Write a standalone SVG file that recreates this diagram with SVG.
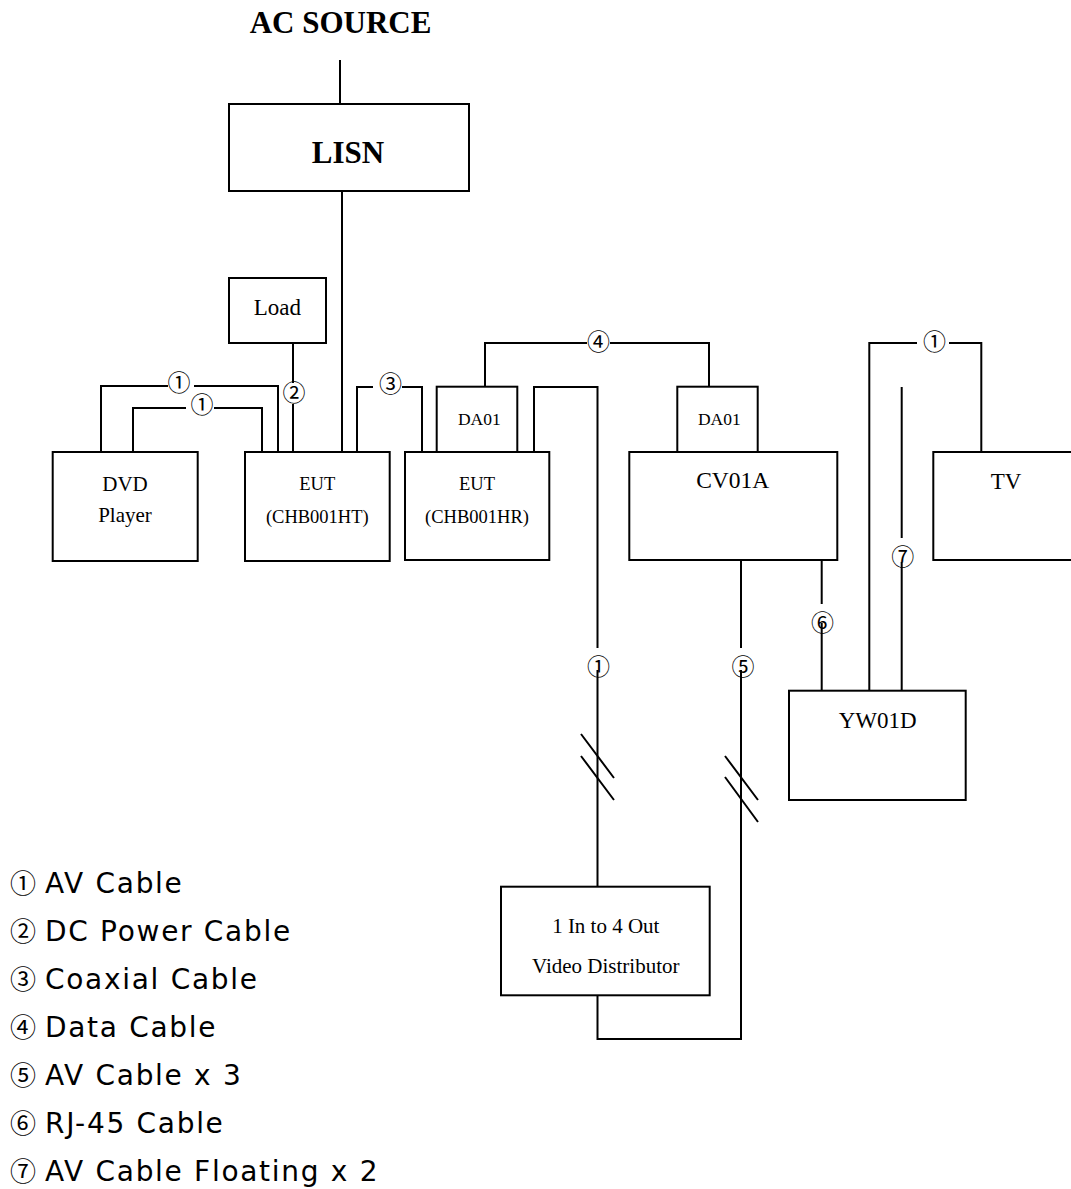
<svg xmlns="http://www.w3.org/2000/svg" width="1071" height="1189" viewBox="0 0 1071 1189">
<style>
.box{fill:#fff;stroke:#000;stroke-width:2}
.wire{fill:none;stroke:#000;stroke-width:2}
.t{font-family:"Liberation Serif","Times New Roman",serif;fill:#000;text-anchor:middle}
.b{font-weight:bold;font-size:31px}
.c{font-family:"Noto Sans CJK JP",sans-serif;font-size:23px;text-anchor:middle;fill:#000}
.lg{font-family:"DejaVu Sans",Verdana,sans-serif;font-size:28px;letter-spacing:1.7px;fill:#000}
.lc{font-family:"Noto Sans CJK JP",sans-serif;font-size:26px;letter-spacing:0}
</style>
<rect width="1071" height="1189" fill="#fff"/>
<g id="connectors">
<path class="wire" d="M340 60V104"/>
<path class="wire" d="M342 191V452"/>
<path class="wire" d="M293 343V383M293 404V452"/>
<path class="wire" d="M101 452V386H168M194 386H278V452"/>
<path class="wire" d="M133 452V408H186M214 408H262V452"/>
<path class="wire" d="M357 452V387H373M402 387H422V452"/>
<path class="wire" d="M485 387V343H587M610 343H709V387"/>
<path class="wire" d="M534 452V387H597.5V648M597.5 670V887"/>
<path class="wire" d="M581 734L614 778M581 756L614 800"/>
<path class="wire" d="M741 560V648M741 670V1039H597.5V996"/>
<path class="wire" d="M725 756L758 800M725 777L758 822"/>
<path class="wire" d="M821.7 560V604M821.7 623V691"/>
<path class="wire" d="M869.3 691V343H917M949 343H981.3V452"/>
<path class="wire" d="M901.7 387V538M901.7 562V691"/>
<text class="c" x="179" y="390.5">①</text>
<text class="c" x="202" y="413">①</text>
<text class="c" x="294" y="401">②</text>
<text class="c" x="390.5" y="391.5">③</text>
<text class="c" x="598.5" y="349.5">④</text>
<text class="c" x="598.5" y="674.5">①</text>
<text class="c" x="743" y="674.5">⑤</text>
<text class="c" x="822.5" y="631">⑥</text>
<text class="c" x="934.5" y="349.5">①</text>
<text class="c" x="902.7" y="564.5">⑦</text>
</g>
<g id="ac-source"><text class="t b" x="340.5" y="33">AC SOURCE</text></g>
<g id="lisn"><rect class="box" x="229" y="104" width="240" height="87"/><text class="t b" x="348" y="162.7">LISN</text></g>
<g id="load"><rect class="box" x="229" y="278" width="97" height="65"/><text class="t" x="277.3" y="315" font-size="23">Load</text></g>
<g id="dvd"><rect class="box" x="52.7" y="452" width="145" height="109"/><text class="t" x="125" y="490.7" font-size="21">DVD</text><text class="t" x="125" y="522" font-size="21">Player</text></g>
<g id="eut-ht"><rect class="box" x="245" y="452" width="144.7" height="109"/><text class="t" x="317.3" y="490" font-size="18.5">EUT</text><text class="t" x="317.3" y="522.7" font-size="18.5">(CHB001HT)</text></g>
<g id="eut-hr"><rect class="box" x="405" y="452" width="144.3" height="108"/><text class="t" x="477" y="490" font-size="18.5">EUT</text><text class="t" x="477" y="522.7" font-size="18.5">(CHB001HR)</text></g>
<g id="da01-a"><rect class="box" x="436.7" y="386.7" width="80.6" height="65.3"/><text class="t" x="479.3" y="425" font-size="17.5">DA01</text></g>
<g id="da01-b"><rect class="box" x="677.3" y="386.7" width="80.4" height="65.3"/><text class="t" x="719.3" y="425" font-size="17.5">DA01</text></g>
<g id="cv01a"><rect class="box" x="629.3" y="452" width="208" height="108"/><text class="t" x="732.7" y="488.3" font-size="23.5">CV01A</text></g>
<g id="tv"><rect class="box" x="933.3" y="452" width="160" height="108"/><text class="t" x="1006" y="489" font-size="23">TV</text></g>
<g id="yw01d"><rect class="box" x="789" y="690.7" width="176.7" height="109.3"/><text class="t" x="877.7" y="727.7" font-size="23">YW01D</text></g>
<g id="distributor"><rect class="box" x="501" y="886.7" width="208.7" height="108.6"/><text class="t" x="605.8" y="933.3" font-size="21">1 In to 4 Out</text><text class="t" x="605.8" y="972.7" font-size="21">Video Distributor</text></g>
<g id="legend">
<text class="lg" y="893"><tspan class="lc" x="10">①</tspan><tspan x="45">AV Cable</tspan></text>
<text class="lg" y="941"><tspan class="lc" x="10">②</tspan><tspan x="45">DC Power Cable</tspan></text>
<text class="lg" y="989"><tspan class="lc" x="10">③</tspan><tspan x="45">Coaxial Cable</tspan></text>
<text class="lg" y="1037"><tspan class="lc" x="10">④</tspan><tspan x="45">Data Cable</tspan></text>
<text class="lg" y="1085"><tspan class="lc" x="10">⑤</tspan><tspan x="45">AV Cable x 3</tspan></text>
<text class="lg" y="1133"><tspan class="lc" x="10">⑥</tspan><tspan x="45">RJ-45 Cable</tspan></text>
<text class="lg" y="1181"><tspan class="lc" x="10">⑦</tspan><tspan x="45">AV Cable Floating x 2</tspan></text>
</g>
</svg>
